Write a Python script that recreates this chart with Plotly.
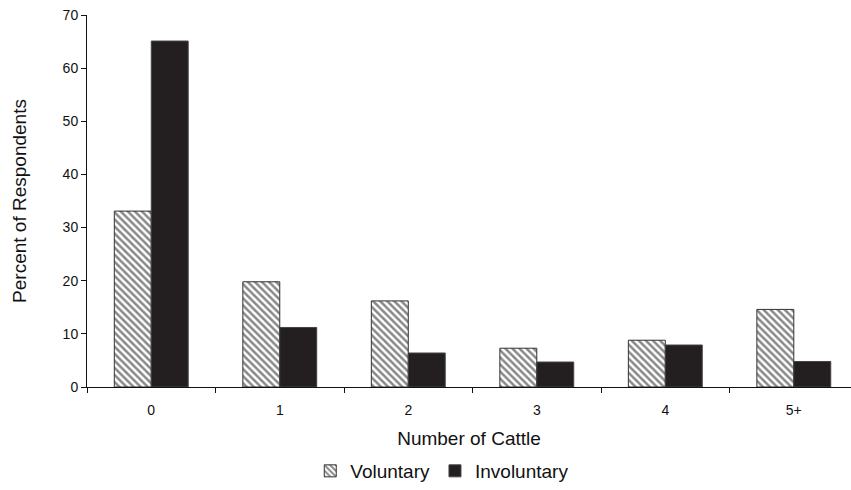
import plotly.graph_objects as go

categories = ["0", "1", "2", "3", "4", "5+"]
voluntary = [33.1, 19.8, 16.2, 7.3, 8.8, 14.6]
involuntary = [65.1, 11.2, 6.4, 4.7, 7.9, 4.8]
y_ticks = [0, 10, 20, 30, 40, 50, 60, 70]

fig = go.Figure()
fig.add_trace(go.Bar(
    x=categories, y=voluntary, name="Voluntary",
    marker=dict(color="white", line=dict(color="#333333", width=1),
                pattern=dict(shape="\\", fgcolor="#111111", bgcolor="white",
                             size=5, solidity=0.5)),
))
fig.add_trace(go.Bar(
    x=categories, y=involuntary, name="Involuntary",
    marker=dict(color="#231f20", line=dict(color="#444444", width=1)),
))

fig.update_layout(
    width=851, height=490,
    margin=dict(l=87, r=0, t=15, b=102),
    paper_bgcolor="white", plot_bgcolor="white",
    barmode="group", bargap=0.425, bargroupgap=0,
    font=dict(family="Liberation Sans, Arial, sans-serif", color="#111111", size=14),
    showlegend=True,
    legend=dict(orientation="h", x=0.465, xanchor="center", y=-0.225, yanchor="middle",
                font=dict(size=19), itemwidth=30, traceorder="normal"),
    xaxis=dict(
        type="category", range=[-0.5, 5.445], automargin=False,
        showline=True, linecolor="#111111", linewidth=1,
        ticks="outside", tickson="boundaries", ticklen=5, tickcolor="#111111",
        showgrid=False, tickfont=dict(size=14), ticklabelstandoff=10,
        title=dict(text="Number of Cattle", font=dict(size=19), standoff=14),
    ),
    yaxis=dict(
        range=[0, 70], tickvals=y_ticks, ticklabeloverflow="allow", automargin=False,
        showline=True, linecolor="#111111", linewidth=1,
        ticks="outside", ticklen=5, tickcolor="#111111",
        showgrid=False, zeroline=False, tickfont=dict(size=14),
        title=dict(text="Percent of Respondents", font=dict(size=19), standoff=30),
    ),
)

fig.write_html("out.html", config={"displayModeBar": False},
               post_script="document.body.style.margin='0';document.body.style.overflow='hidden';")
